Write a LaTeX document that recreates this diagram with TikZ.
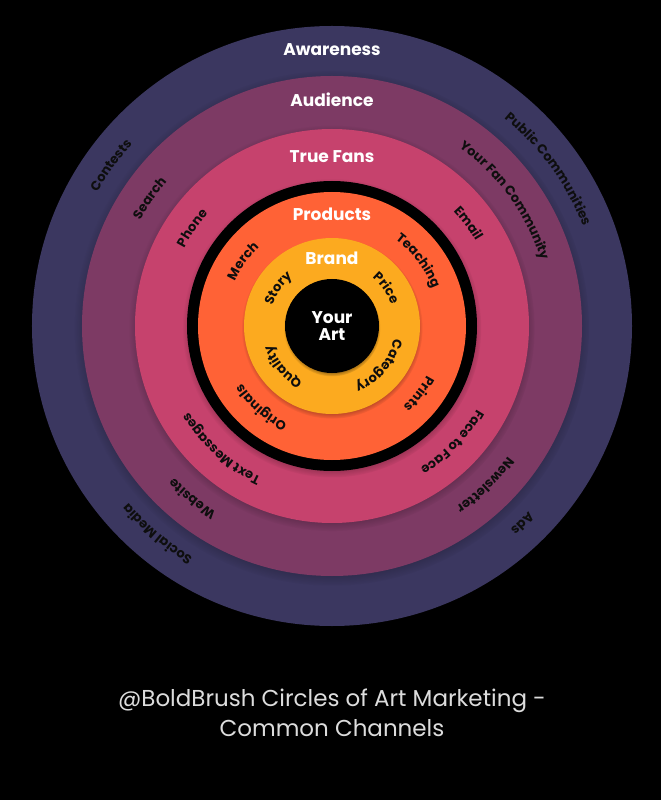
\documentclass[tikz,border=0pt]{standalone}
\usepackage{fontspec}
\setmainfont{Poppins}
\usetikzlibrary{decorations.text, shadows, fadings}
\definecolor{artnavy}{HTML}{3B3760}
\definecolor{artplum}{HTML}{7D3A64}
\definecolor{artrose}{HTML}{C6426D}
\definecolor{artorange}{HTML}{FF6236}
\definecolor{artgold}{HTML}{FCAA1F}
\definecolor{artgrey}{HTML}{DCDCDC}
\definecolor{artink}{HTML}{0E0E0E}

\begin{document}
\begin{tikzpicture}[
    x=1pt, y=1pt,
    ring/.style={circle, inner sep=0pt, draw=none, minimum size=#1},
    halo/.style={circular drop shadow={shadow xshift=0pt, shadow yshift=-2pt, shadow scale=1.03, opacity=0.6, fill=black}},
    title/.style={anchor=base, text=white, font=\fontsize{17}{17}\selectfont\bfseries},
    curved/.style={decoration={text along path, text align=center, text color=artink,
        text={|\fontsize{13}{15}\selectfont\bfseries|#1}}, decorate},
    caption/.style={anchor=base, text=artgrey, align=center, font=\fontsize{23}{30}\selectfont}
]
\path[use as bounding box, fill=black] (-332,-474) rectangle (329,326);

% the rings, outside in
\node[ring=600pt, fill=artnavy] (awareness) at (0,0) {};
\node[ring=500pt, fill=artplum, halo] (audience) at (0,0) {};
\node[ring=394pt, fill=artrose, halo] (fans) at (0,0) {};
\node[ring=290pt, fill=black, halo] (rim) at (0,0) {};
\node[ring=268pt, fill=artorange] (products) at (0,0) {};
\node[ring=176pt, fill=artgold, halo] (brand) at (0,0) {};
\node[ring=94pt, fill=black, halo] (core) at (0,0) {};

% ring titles
\node[title] (awarenesstitle) at (0,270) {Awareness};
\node[title] (audiencetitle) at (0,219) {Audience};
\node[title] (fanstitle) at (0,163) {True Fans};
\node[title] (productstitle) at (0,105) {Products};
\node[title] (brandtitle) at (0,61) {Brand};
\node[text=white, align=center, font=\fontsize{17}{17}\selectfont\bfseries] (yourart) at (core) {Your\\Art};

% channels along the rings
\foreach \ang/\rad/\txt in {
    144/270/Contests, 36/270/Public Communities, 230/270/Social Media, 314/270/Ads,
    145/219/Search, 36/219/Your Fan Community, 231/219/Website, 314/219/Newsletter,
    145/167/Phone, 37/167/Email, 228/167/Text Messages, 316/167/Face to Face,
    144/107/Merch, 37/107/Teaching, 229/107/Originals, 322/107/Prints,
    145/63/Story, 35/63/Price, 220/63/Quality, 320/63/Category}
  \path[curved={\txt}] (\ang+60:\rad) arc[start angle=\ang+60, delta angle=-120, radius=\rad];

\node[caption] (caption) at (0,-410) {@BoldBrush Circles of Art Marketing -\\Common Channels};
\end{tikzpicture}
\end{document}
